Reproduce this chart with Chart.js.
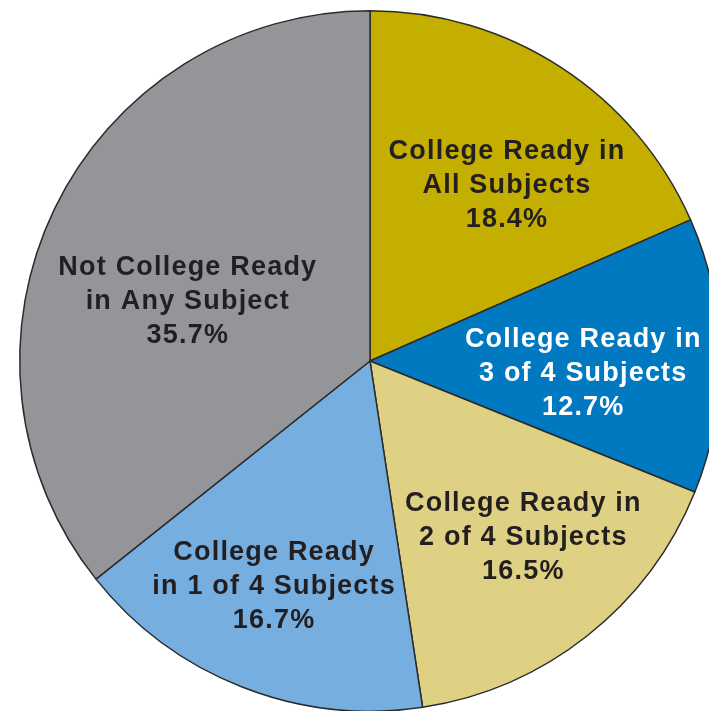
<!DOCTYPE html>
<html>
<head>
<meta charset="utf-8">
<script src="https://cdn.jsdelivr.net/npm/chart.js@4"></script>
<style>
  html, body { margin: 0; padding: 0; background: #fff; overflow: hidden; }
  #wrap { position: absolute; left: 0; top: 10px; width: 740px; height: 702px; }
</style>
</head>
<body>
<div id="wrap"><canvas id="myPieChart"></canvas></div>
<script>
// dati del grafico
var categorie = [
    ['College Ready in', 'All Subjects'],
    ['College Ready in', '3 of 4 Subjects'],
    ['College Ready in', '2 of 4 Subjects'],
    ['College Ready', 'in 1 of 4 Subjects'],
    ['Not College Ready', 'in Any Subject']
];
var percentuali = [18.4, 12.7, 16.5, 16.7, 35.7];
var colori = ['#C4AE00', '#0079C1', '#DFD183', '#76AEDF', '#939598'];
var coloriTesto = ['#231F20', '#FFFFFF', '#231F20', '#231F20', '#231F20'];

// Plugin per scrivere le etichette dentro le fette
var etichettePlugin = {
    id: 'etichette',
    afterDatasetsDraw: function(chart, args, opts) {
        var ctx = chart.ctx;
        var meta = chart.getDatasetMeta(0);
        meta.data.forEach(function(arc, i) {
            var p = arc.getProps(['x', 'y', 'startAngle', 'endAngle', 'outerRadius'], true);
            // piccoli aggiustamenti per avvicinarsi all'originale
            var mid = (p.startAngle + p.endAngle) / 2 + opts.spostamenti[i] * Math.PI / 180;
            var r = p.outerRadius * opts.raggi[i];
            var x = p.x + Math.cos(mid) * r;
            var y = p.y + Math.sin(mid) * r;
            var righe = categorie[i].concat([percentuali[i].toFixed(1) + '%']);
            ctx.save();
            ctx.font = 'bold 27px "Liberation Sans", Arial, sans-serif';
            ctx.letterSpacing = '1.2px';
            ctx.fillStyle = coloriTesto[i];
            ctx.textAlign = 'center';
            ctx.textBaseline = 'middle';
            var alt = 34;
            righe.forEach(function(t, k) {
                ctx.fillText(t, x, y + (k - 1) * alt);
            });
            ctx.restore();
        });
    }
};

var ctx = document.getElementById('myPieChart').getContext('2d');
var myPieChart = new Chart(ctx, {
    type: 'pie',
    data: {
        labels: categorie.map(function(c) { return c.join(' '); }),
        datasets: [{
            data: percentuali,
            backgroundColor: colori,
            borderColor: '#2b2b2b',
            borderWidth: 1.5
        }]
    },
    options: {
        responsive: true,
        maintainAspectRatio: false,
        animation: false,
        layout: { padding: 0 },
        plugins: {
            legend: { display: false },
            tooltip: { enabled: false },
            etichette: {
                raggi: [0.635, 0.61, 0.667, 0.70, 0.547],
                spostamenti: [4.9, 4.4, -2.7, 1.6, -7.7]
            }
        }
    },
    plugins: [etichettePlugin]
});
</script>
</body>
</html>
